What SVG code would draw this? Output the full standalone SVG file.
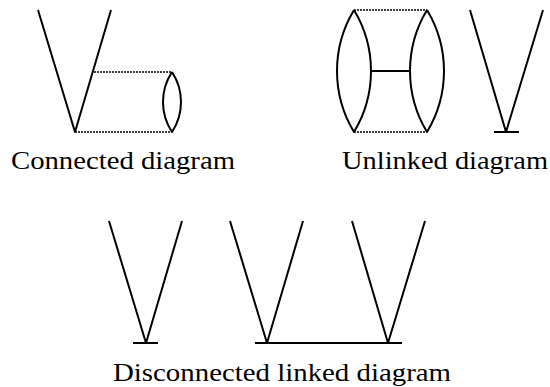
<svg xmlns="http://www.w3.org/2000/svg" width="550" height="387" viewBox="0 0 550 387">
<style>
.s{fill:none;stroke:#000;stroke-width:2;stroke-linecap:butt;stroke-linejoin:round}
.d{fill:none;stroke:#000;stroke-width:1.3;stroke-dasharray:2 1}
.t{font-family:"Liberation Serif","DejaVu Serif",serif;font-size:26px;fill:#000}
</style>
<rect width="550" height="387" fill="#fff"/>
<g id="connected">
<path class="s" d="M38,10 L75,132 L111,10"/>
<path class="d" d="M94,72 L172,72 M75,132 L172,132"/>
<path class="s" d="M172,72 A54.5,54.5 0 0 0 172,132 A54.5,54.5 0 0 0 172,72"/>
<text class="t" x="11" y="169" textLength="224" lengthAdjust="spacingAndGlyphs">Connected diagram</text>
</g>
<g id="unlinked">
<path class="d" d="M354,10 L427,10 M354,132 L427,132"/>
<path class="s" d="M354,10 A118,118 0 0 0 354,132 A118,118 0 0 0 354,10"/>
<path class="s" d="M427,10 A118,118 0 0 0 427,132 A118,118 0 0 0 427,10"/>
<path class="s" d="M371,71 L411,71"/>
<path class="s" d="M470,10 L506,132 L543,10 M494,132 L519,132"/>
<text class="t" x="342" y="169" textLength="206" lengthAdjust="spacingAndGlyphs">Unlinked diagram</text>
</g>
<g id="disconnected">
<path class="s" d="M109,221 L146,343 L182,221 M133,343 L158,343"/>
<path class="s" d="M230,221 L267,343 L303,221"/>
<path class="s" d="M352,221 L388,343 L425,221"/>
<path class="s" d="M255,343 L402,343"/>
<text class="t" x="113" y="381" textLength="338" lengthAdjust="spacingAndGlyphs">Disconnected linked diagram</text>
</g>
</svg>
